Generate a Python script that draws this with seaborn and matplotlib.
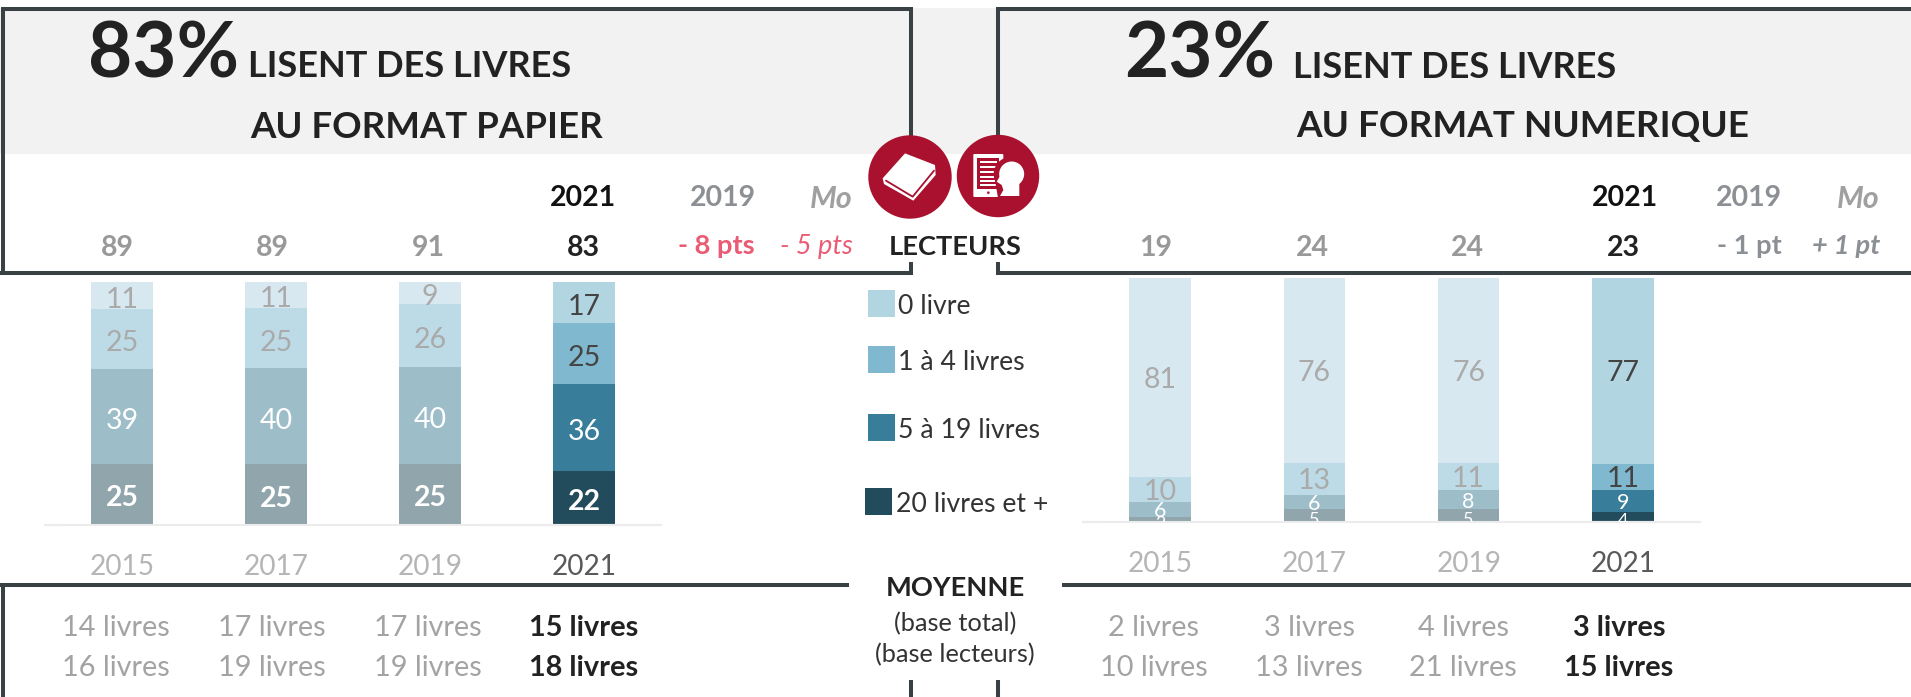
import numpy as np
import matplotlib
matplotlib.use("Agg")
import matplotlib.pyplot as plt
from matplotlib.patches import Circle, Polygon, Rectangle, FancyBboxPatch
import seaborn as sns

annees = ["2015", "2017", "2019", "2021"]

# papier, du bas vers le haut de la barre
papier_20_plus = [25, 25, 25, 22]
papier_5_19 = [39, 40, 40, 36]
papier_1_4 = [25, 25, 26, 25]
papier_0 = [11, 11, 9, 17]

# numerique
num_20_plus = [2, 5, 5, 4]
num_5_19 = [6, 6, 8, 9]
num_1_4 = [10, 13, 11, 11]
num_0 = [81, 76, 76, 77]

lecteurs_papier = ["89", "89", "91", "83"]
lecteurs_num = ["19", "24", "24", "23"]
moy_total_papier = ["14 livres", "17 livres", "17 livres", "15 livres"]
moy_lecteurs_papier = ["16 livres", "19 livres", "19 livres", "18 livres"]
moy_total_num = ["2 livres", "3 livres", "4 livres", "3 livres"]
moy_lecteurs_num = ["10 livres", "13 livres", "21 livres", "15 livres"]
tranches = ["20 livres et +", "5 à 19 livres", "1 à 4 livres", "0 livre"]

# couleurs du bas vers le haut
coul_2021 = ["#224c5c", "#387e9a", "#7fb8cf", "#b2d5e2"]
coul_passe = ["#90a5ac", "#9dbdc9", "#bddbe7", "#d7e8f0"]
COUL_CADRE = "#3a4145"
COUL_ROUGE = "#a9112e"

sns.set_theme(style="white")
plt.rcParams["font.family"] = ["Lato", "DejaVu Sans"]

L, H = 1911, 697
fig = plt.figure(figsize=(L / 100, H / 100), dpi=100)
fond = fig.add_axes([0, 0, 1, 1])
fond.set_xlim(0, L)
fond.set_ylim(H, 0)
fond.axis("off")


def texte(x, y, s, taille, coul="#333333", gras=False, ital=False, ha="center", va="center_baseline"):
    fond.text(x, y, s, fontsize=taille, color=coul, ha=ha, va=va,
              fontweight="bold" if gras else "normal",
              fontstyle="italic" if ital else "normal", zorder=6)


def trait(xs, ys):
    fond.plot(xs, ys, color=COUL_CADRE, lw=2.9, solid_capstyle="butt",
              solid_joinstyle="miter", zorder=2)


def barres(rect, niveaux, gras_bas, petits):
    x0, y0, x1, y1 = rect
    ax = fig.add_axes([x0 / L, 1 - y1 / H, (x1 - x0) / L, (y1 - y0) / H])
    ax.patch.set_visible(False)
    vals = np.array(niveaux, dtype=float)
    cumul = np.cumsum(vals, axis=0) / vals.sum(axis=0) * 100
    for n in range(3, -1, -1):
        pal = dict(zip(annees, [coul_passe[n]] * 3 + [coul_2021[n]]))
        sns.barplot(x=annees, y=cumul[n], hue=annees, palette=pal, width=0.4,
                    dodge=False, legend=False, saturation=1, linewidth=0, ax=ax)
    ax.set_xlim(-0.5, 3.5)
    ax.set_ylim(0, 100)
    ax.set_yticks([])
    ax.set_xlabel("")
    ax.set_ylabel("")
    sns.despine(ax=ax, left=True)
    ax.spines["bottom"].set_color("#ececec")
    ax.spines["bottom"].set_linewidth(1.5)
    ax.axhline(0, xmin=0, xmax=0.03, color="#dcdcdc", lw=1.5, clip_on=False)
    ax.axhline(0, xmin=0.71, xmax=1, color="#dcdcdc", lw=1.5, clip_on=False)
    ax.tick_params(axis="x", length=0, pad=21.5, labelsize=20.2)
    for i, lab in enumerate(ax.get_xticklabels()):
        lab.set_color("#595959" if i == 3 else "#b5b5b5")
    # etiquettes, coupees par le bas de l'axe comme dans l'original
    for n in range(4):
        bas = cumul[n - 1] if n else np.zeros(4)
        for i in range(4):
            v = int(vals[n, i])
            if n >= 2:
                coul = "#444444" if i == 3 else "#aaaaaa"
            else:
                coul = "white"
            taille = 20.5
            y = (bas[i] + cumul[n, i]) / 2
            if not petits:
                y -= 0.7
            elif v < 10:
                taille = 15.5 if v > 5 else 13
                if v <= 5:
                    y -= 1.3
            ax.text(i, y, str(v), ha="center", va="center_baseline",
                    fontsize=taille, color=coul, clip_on=True,
                    fontweight="bold" if (n == 0 and gras_bas) else "normal")
    return ax


# fond gris + cadres
fond.add_patch(Rectangle((0, 8), L, 146, color="#f2f2f2", lw=0, zorder=0))
trait([3, 3, 911, 911], [273, 9, 9, 140])
trait([0, 911, 911], [273, 273, 262])
trait([998, 998, L], [140, 9, 9])
trait([998, 998, L], [262, 273, 273])
trait([0, 849], [585, 585])
trait([3, 3], [585, H])
trait([1062, L], [585, 585])
trait([911, 911], [680, H])
trait([998, 998], [680, H])

# barres
barres((45, 282, 661, 524.5), [papier_20_plus, papier_5_19, papier_1_4, papier_0], True, False)
barres((1083, 278, 1700, 521.5), [num_20_plus, num_5_19, num_1_4, num_0], False, True)

# titres
texte(88, 77, "83%", 55, "#222222", True, ha="left", va="baseline")
texte(248, 77, "LISENT DES LIVRES", 26, "#222222", True, ha="left", va="baseline")
texte(427, 124, "AU FORMAT PAPIER", 26.4, "#222222", True)
texte(1124, 77, "23%", 55, "#222222", True, ha="left", va="baseline")
texte(1293, 78, "LISENT DES LIVRES", 26, "#222222", True, ha="left", va="baseline")
texte(1523, 124, "AU FORMAT NUMERIQUE", 26.6, "#222222", True)

# ligne lecteurs
for x, s, c in zip([117, 272.5, 428, 583.6], lecteurs_papier, ["#999999"] * 3 + ["#222222"]):
    texte(x, 246, s, 20.5, c, True)
for x, s, c in zip([1156, 1312, 1467, 1623], lecteurs_num, ["#999999"] * 3 + ["#222222"]):
    texte(x, 246, s, 20.5, c, True)
texte(583, 196, "2021", 20.5, "#111111", True)
texte(723, 196, "2019", 20.5, "#8c9094", True)
texte(853, 196, "Mo", 22, "#a0a0a0", True, True, ha="right")
texte(755, 244, "- 8 pts", 19.6, "#ea5b74", True, ha="right")
texte(853, 244, "- 5 pts", 19.5, "#ea5b74", False, True, ha="right")
texte(1625, 196, "2021", 20.5, "#111111", True)
texte(1749, 196, "2019", 20.5, "#8c9094", True)
texte(1880, 196, "Mo", 22, "#a0a0a0", True, True, ha="right")
texte(1782, 244, "- 1 pt", 19.6, "#8c9094", True, ha="right")
texte(1880, 244, "+ 1 pt", 19.6, "#8c9094", True, True, ha="right")
texte(955, 245, "LECTEURS", 19.6, "#222222", True)

# legende
for (x0, y0), nom, c, xt in zip([(865, 488), (868, 414), (868, 346), (868, 290)], tranches,
                                coul_2021, [896, 898, 898, 898]):
    fond.add_patch(Rectangle((x0, y0), 27, 27, color=c, lw=0, zorder=3))
    texte(xt, y0 + 14, nom, 19.2, "#333333", ha="left")

# moyennes
texte(955, 586, "MOYENNE", 19.6, "#222222", True)
texte(955, 622, "(base total)", 18.3)
texte(955, 653, "(base lecteurs)", 18.3)
for xs, rangs in (([116, 271.6, 427.7, 583.6], (moy_total_papier, moy_lecteurs_papier)),
                  ([1154, 1309, 1463, 1619], (moy_total_num, moy_lecteurs_num))):
    for y, rang in zip([626, 665], rangs):
        for i, (x, s) in enumerate(zip(xs, rang)):
            texte(x, y, s, 20.8, "#222222" if i == 3 else "#a3a3a3", i == 3)


# pictos
def pt(x, y):
    return 860 + x / 3, 130 + y / 3


def forme(points, coul="white", z=5):
    fond.add_patch(Polygon([pt(*p) for p in points], closed=True, color=coul, lw=0, zorder=z))


fond.add_patch(Circle((910, 177), 41.7, color=COUL_ROUGE, lw=0, zorder=4))
fond.add_patch(Circle((998, 176), 41.2, color=COUL_ROUGE, lw=0, zorder=4))
forme([(135, 70), (225, 105), (227, 135), (160, 212), (72, 162), (68, 145)])
fond.plot(*zip(pt(78, 152), pt(158, 200), pt(222, 122)), color=COUL_ROUGE, lw=1.3, zorder=5.1)

cx, cy = pt(340, 72)
fond.add_patch(FancyBboxPatch((cx + 1, cy + 1), 28, 41, boxstyle="round,pad=1", color="white", lw=0, zorder=5))
forme([(352, 85), (418, 85), (418, 178), (352, 178)], COUL_ROUGE, 5.1)
for yy in (95, 110, 125, 140, 152, 164):
    forme([(360, yy - 3), (412, yy - 3), (412, yy + 3), (360, yy + 3)], "white", 5.2)
fond.add_patch(Circle(pt(385, 188), 1.3, color=COUL_ROUGE, lw=0, zorder=5.2))
fond.add_patch(Circle(pt(452, 132), 17, color=COUL_ROUGE, lw=0, zorder=5.3))
forme([(405, 150), (490, 150), (490, 205), (415, 205)], COUL_ROUGE, 5.3)
fond.add_patch(Circle(pt(455, 132), 12.5, color="white", lw=0, zorder=5.4))
forme([(425, 130), (410, 155), (425, 165), (430, 180), (420, 198), (478, 198), (478, 150)], "white", 5.4)

fig.savefig("out.png", dpi=100)
